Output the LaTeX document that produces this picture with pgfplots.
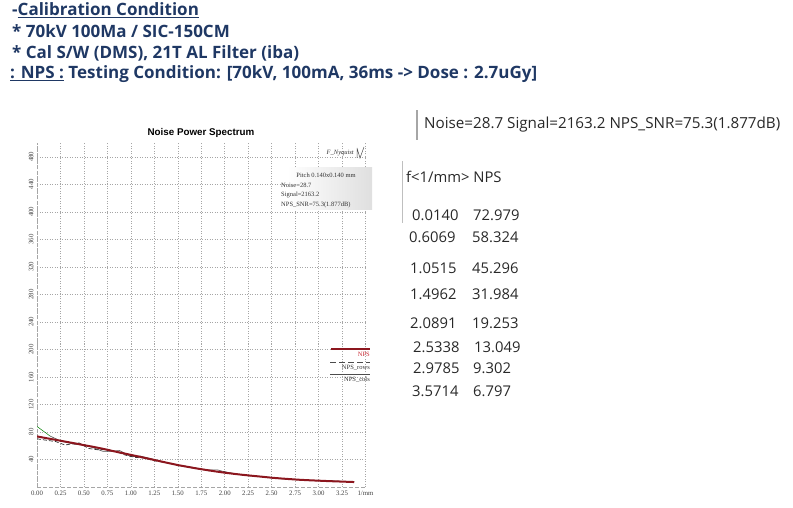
\documentclass[border=0pt]{standalone}
\usepackage{fontspec}
\setmainfont{Open Sans}
\newfontfamily\arialf{Liberation Sans}
\newfontfamily\serifr{Liberation Serif}
\usepackage{pgfplots}
\pgfplotsset{compat=1.18}
\definecolor{navy}{RGB}{31,56,100}
\definecolor{npsred}{RGB}{140,22,30}
\definecolor{legred}{RGB}{200,40,50}
\definecolor{txt}{RGB}{40,40,40}
\begin{document}
\begin{tikzpicture}[x=1pt,y=1pt]
\path[use as bounding box] (0,0) rectangle (793,507);
% header
\begin{scope}[every node/.style={anchor=west,inner sep=0pt,text=navy,font=\fontsize{17}{20}\selectfont\bfseries}]
\node at (12,497) {-\underline{Calibration Condition}};
\node at (12,476) {* 70kV 100Ma / SIC-150CM};
\node at (12,454) {* Cal S/W (DMS), 21T AL Filter (iba)};
\node at (10,433) {\underline{: NPS :} Testing Condition: [70kV, 100mA, 36ms -> Dose : 2.7uGy]};
\end{scope}
% chart title
\node[font=\arialf\fontsize{9.8}{11}\selectfont\bfseries] at (201,374) {Noise Power Spectrum};
\begin{axis}[
  at={(37pt,20pt)}, anchor=south west,
  scale only axis, width=328.5pt, height=344pt,
  xmin=0, xmax=3.5, ymin=0, ymax=500,
  axis x line*=bottom, axis y line*=left,
  axis line style={gray!70, dash pattern=on 4pt off 2pt, -},
  grid=major, major grid style={gray!70, dash pattern=on 1pt off 1.5pt, line width=0.5pt},
  xtick={0,0.25,0.5,0.75,1,1.25,1.5,1.75,2,2.25,2.5,2.75,3,3.25,3.5},
  xticklabels={0.00,0.25,0.50,0.75,1.00,1.25,1.50,1.75,2.00,2.25,2.50,2.75,3.00,3.25,1/mm},
  ytick={40,80,120,160,200,240,280,320,360,400,440,480},
  yticklabel style={rotate=90},
  tick label style={font=\serifr\fontsize{6.8}{7}\selectfont, text=black!75},
  /pgf/number format/assume math mode=true,
  major tick length=0pt,
]
\addplot[green!50!black, line width=0.5pt] coordinates {(0,88) (0.14,74)};
\addplot[gray!60!black, line width=0.6pt] coordinates {
(0.14,74) (0.25,67) (0.4,62) (0.5,62) (0.6,57) (0.7,52) (0.8,52) (0.88,53) (0.95,48) (1.0,44) (1.1,45) (1.25,40) (1.35,36) (1.5,32) (1.65,28) (1.8,25) (1.92,25) (2.0,22) (2.1,19) (2.3,16) (2.5,13.5) (2.7,11) (2.9,9.5) (3.1,9) (3.25,8) (3.38,7)};
\addplot[black!80, line width=0.7pt, dash pattern=on 4pt off 2pt] coordinates {
(0,70) (0.1,68) (0.2,66) (0.3,61) (0.38,63) (0.45,64) (0.55,56) (0.65,54) (0.75,55) (0.85,51) (0.95,46) (1.05,43) (1.15,42) (1.25,38) (1.4,35) (1.5,31) (1.6,30) (1.75,26) (1.85,23) (2.0,22) (2.2,17) (2.4,15) (2.6,12) (2.8,10.8) (3.0,9) (3.2,8.5) (3.38,7.5)};
\addplot[npsred, line width=2pt] coordinates {
(0,73.5) (0.1,71) (0.2,68.5) (0.3,66) (0.4,63.5) (0.5,60.8) (0.6,58.4) (0.7,55.6) (0.8,52.5) (0.9,49.6) (1.0,46.7) (1.1,43.8) (1.2,40.8) (1.3,37.8) (1.4,34.8) (1.5,31.9) (1.6,29.4) (1.7,27.0) (1.8,24.8) (1.9,22.7) (2.0,20.8) (2.1,19.1) (2.2,17.6) (2.3,16.2) (2.4,14.9) (2.5,13.5) (2.6,12.4) (2.7,11.4) (2.8,10.5) (2.9,9.8) (3.0,9.2) (3.1,8.6) (3.2,8.1) (3.3,7.6) (3.38,7.2)};
\end{axis}
% info box
\shade[left color=white, right color=gray!25] (287,297) rectangle (372,339);
\begin{scope}[every node/.style={inner sep=0pt, font=\serifr\fontsize{6.5}{7}\selectfont, text=black!80}]
\node at (326,332) {Pitch 0.140x0.140 mm};
\node[anchor=west] at (281,322) {Noise=28.7};
\node[anchor=west] at (281,312) {Signal=2163.2};
\node[anchor=west] at (281,302) {NPS\_SNR=75.3(1.877dB)};
\node[anchor=east, font=\serifr\itshape\fontsize{6.5}{7}\selectfont] at (354,354) {F\_Nyquist};
\end{scope}
\draw[black!70, line width=0.5pt] (357,349) -- (357,359) (357,359) -- (360,349) -- (364,360);
% legend
\draw[npsred, line width=2pt] (331,158) -- (370,158);
\node[anchor=east, inner sep=0pt, text=legred, font=\serifr\fontsize{6.5}{7}\selectfont] at (370,153) {NPS};
\draw[black!70, line width=0.6pt, dash pattern=on 6pt off 3pt] (330,145) -- (370,145);
\node[anchor=east, inner sep=0pt, text=black!80, font=\serifr\fontsize{6.5}{7}\selectfont] at (370,139) {NPS\_rows};
\draw[black!70, line width=0.6pt] (330,133) -- (370,133);
\node[anchor=east, inner sep=0pt, text=black!80, font=\serifr\fontsize{6.5}{7}\selectfont] at (370,127) {NPS\_cols};
% right text
\draw[gray!70, line width=1.5pt] (417,367) -- (417,397);
\node[anchor=west, inner sep=0pt, text=txt, font=\fontsize{15.2}{18}\selectfont] at (424,382) {Noise=28.7 Signal=2163.2 NPS\_SNR=75.3(1.877dB)};
\draw[gray!50, line width=0.6pt] (402,284) -- (402,346);
\begin{scope}[every node/.style={anchor=west, inner sep=0pt, text=txt, font=\fontsize{14.8}{17}\selectfont}]
\node at (406,330) {f<1/mm> NPS};
\node at (412,292) {0.0140}; \node at (473,292) {72.979};
\node at (409,270) {0.6069}; \node at (472,270) {58.324};
\node at (410,239) {1.0515}; \node at (472,239) {45.296};
\node at (410,213) {1.4962}; \node at (472,213) {31.984};
\node at (410,184) {2.0891}; \node at (472,184) {19.253};
\node at (413,160) {2.5338}; \node at (474,160) {13.049};
\node at (413,139) {2.9785}; \node at (473,139) {9.302};
\node at (412,116) {3.5714}; \node at (473,116) {6.797};
\end{scope}
\end{tikzpicture}
\end{document}
